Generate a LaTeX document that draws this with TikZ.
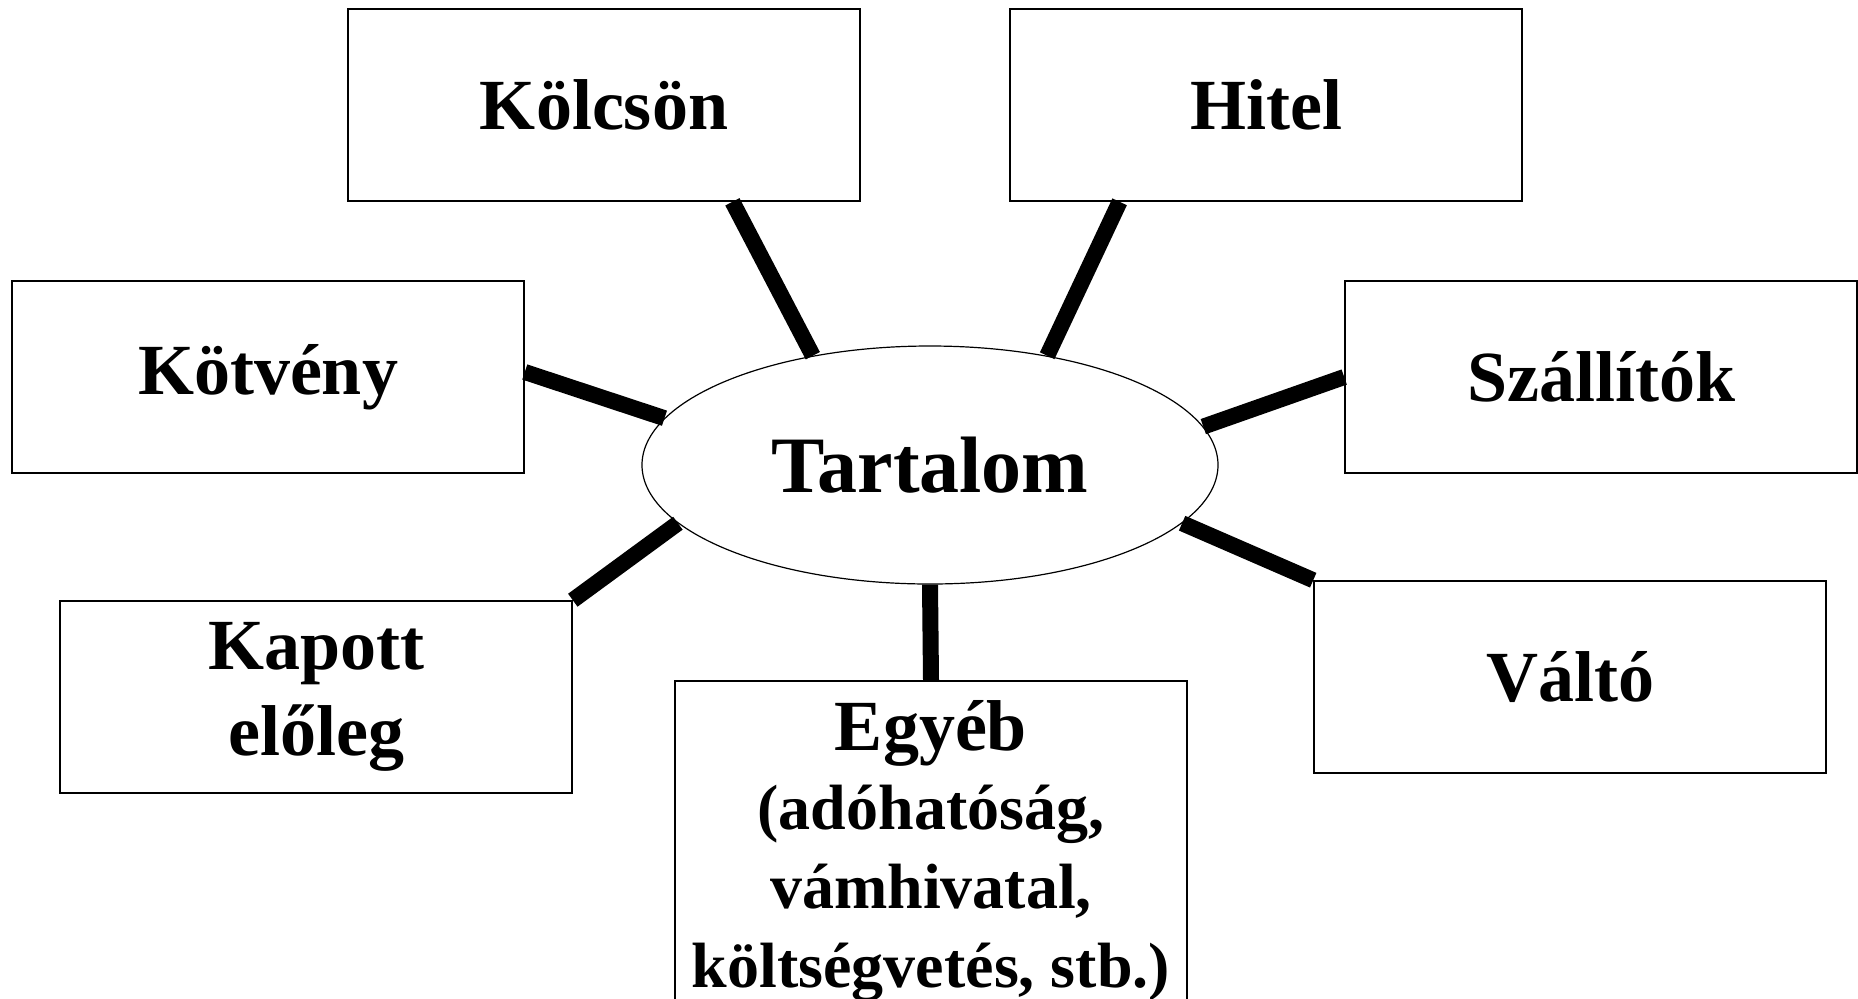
\documentclass[tikz,border=0pt]{standalone}
\usepackage{fontspec}
\setmainfont{Liberation Serif}
\usetikzlibrary{shapes.geometric,calc}
\begin{document}
\begin{tikzpicture}[x=0.5pt,y=-0.5pt,
  box/.style={draw, line width=0.8pt, minimum width=256pt, minimum height=96pt, inner sep=0pt, align=center, font=\bfseries\fontsize{36pt}{43pt}\selectfont},
  oval/.style={draw, line width=0.6pt, ellipse, minimum width=288pt, minimum height=119pt, inner sep=0pt, font=\bfseries\fontsize{40pt}{44pt}\selectfont},
  note/.style={inner sep=0pt, align=center, font=\bfseries\fontsize{32pt}{39.5pt}\selectfont},
  link/.style={line width=8pt}]
\useasboundingbox (0,0) rectangle (1858,998);
\clip (0,0) rectangle (1858,998);
\fill[white] (0,0) rectangle (1858,998);
\node[box] (kolcson) at (604,105) {Kölcsön};
\node[box] (hitel) at (1266,105) {Hitel};
\node[box] (kotveny) at (268,377) {Kötvény};
\node[box] (szallitok) at (1601,377) {Szállítók};
\node[box] (kapott) at (316,697) {Kapott\\előleg};
\node[box] (valto) at (1570,677) {Váltó};
\node[box, minimum height=200pt, anchor=north] (egyeb) at (931,680) {};
\node[note, anchor=north] (egyebtext) at (931,700) {{\fontsize{36pt}{39.5pt}\selectfont Egyéb}\\(adóhatóság,\\vámhivatal,\\költségvetés, stb.)};
\node[oval] (tartalom) at (930,465) {Tartalom};
\draw[link] ($(kolcson.south west)!0.75!(kolcson.south east)$) -- (tartalom.137);
\draw[link] ($(hitel.south west)!0.215!(hitel.south east)$) -- (tartalom.43.4);
\draw[link] ($(kotveny.east)+(0,-5)$) -- (tartalom.170);
\draw[link] (szallitok.west) -- (tartalom.8.5);
\draw[link] (kapott.north east) -- (tartalom.193.3);
\draw[link] (egyeb.north) -- (tartalom.south);
\draw[link] (valto.north west) -- (tartalom.347.5);
\end{tikzpicture}
\end{document}
